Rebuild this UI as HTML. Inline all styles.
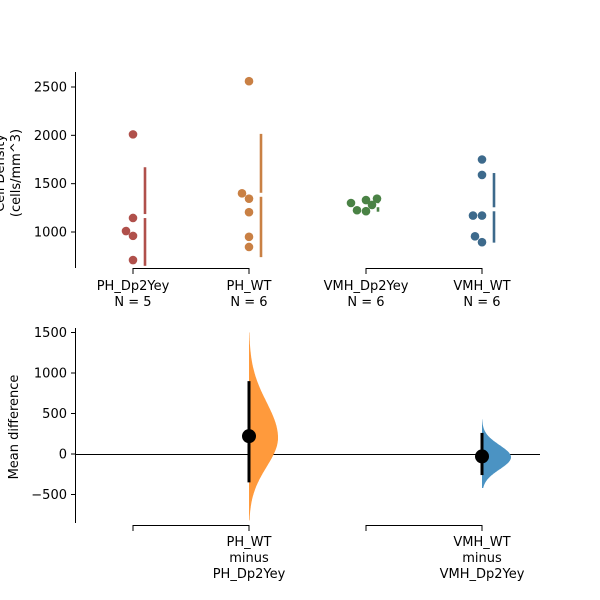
<!DOCTYPE html>
<html><head><meta charset="utf-8"><style>
html,body{margin:0;padding:0;background:#fff;}
svg{display:block;font-family:"DejaVu Sans","Liberation Sans",sans-serif;}
</style></head><body>
<svg id="chart" width="600" height="600" viewBox="0 0 600 600"></svg>
<script>
// ---- data ----
const groups = ["PH_Dp2Yey","PH_WT","VMH_Dp2Yey","VMH_WT"];
const groupN = [5,6,6,6];
const groupColors = ["#b0504b","#c98044","#4a8245","#3d6a8c"];
const ph_dp2 = [2010,1145,1010,960,710];
const ph_wt = [2560,1400,1345,1205,950,845];
const vmh_dp2 = [1300,1225,1330,1215,1280,1345];
const vmh_wt = [1750,1590,1170,1170,955,895];
const groupValues = [ph_dp2, ph_wt, vmh_dp2, vmh_wt];
const jitter = [[0,0,-7,0,0],[0,-7,0,0,0,0],[-15,-9,0,0,6,11],[0,0,-9,0,-7,0]];
const gapMean = [1165,1385,1277,1235];
const gapLow = [650,740,1210,890];
const gapHigh = [1670,2015,1344,1610];
const topTicks = [1000,1500,2000,2500];
const diffLabels = [["PH_WT","minus","PH_Dp2Yey"],["VMH_WT","minus","VMH_Dp2Yey"]];
const diffMean = [220,-30];
const ciLow = [-350,-260];
const ciHigh = [900,260];
const kdeCenter = [200,-40];
const kdeSdUp = [440,150];
const kdeSdDown = [360,150];
const kdeLo = [-820,-420];
const kdeHi = [1500,430];
const diffColors = ["#ff9a3c","#4b93c3"];
const bottomTicks = [-500,0,500,1000,1500];

// ---- scales ----
const gx = i => [133,249,366,482][i];
const yTop = v => 232 - (v-1000)*145/1500;
const yBot = v => 454 - v*81/1000;

const svg = document.getElementById('chart');
const NS = "http://www.w3.org/2000/svg";
function mk(tag, attrs, parent){const e=document.createElementNS(NS,tag);for(const k in attrs)e.setAttribute(k,attrs[k]);(parent||svg).appendChild(e);return e;}
function txt(x,y,s,anchor,parent){const t=mk('text',{x:x,y:y,'font-size':13,'text-anchor':anchor||'middle',fill:'#000'},parent);t.textContent=s;return t;}

// ---- top axes ----
const topAx = mk('g',{});


mk('line',{x1:75.5,y1:72,x2:75.5,y2:268,stroke:'#000','stroke-width':1},topAx);
topTicks.forEach(t=>{
  const y=yTop(t);
  mk('line',{x1:71,y1:y,x2:75.5,y2:y,stroke:'#000'},topAx);
  const l=txt(67,y+4.5,String(t),'end',topAx);
  
  
});
const yl = mk('text',{transform:'translate(7,173) rotate(-90)','font-size':13,'text-anchor':'middle'});


const ylA=mk('tspan',{x:0,dy:-3},yl);ylA.textContent='Cell Density';
const ylB=mk('tspan',{x:0,dy:16},yl);ylB.textContent='(cells/mm^3)';
[[0,1],[2,3]].forEach(p=>{
  mk('path',{d:`M${gx(p[0])},274 V268.5 H${gx(p[1])} V274`,fill:'none',stroke:'#000'},topAx);
});
groups.forEach((g,i)=>{
  const a=txt(gx(i),290,g);
  
  
  const b=txt(gx(i),306,'N = '+groupN[i]);
  
  
});
groupValues.forEach((vals,i)=>{
  vals.forEach((v,j)=>{
    const c=mk('circle',{cx:gx(i)+jitter[i][j],cy:yTop(v),r:4.3,fill:groupColors[i]});
    
    
  });
  const x=gx(i)+12, m=yTop(gapMean[i]);
  const s1=mk('line',{x1:x,y1:yTop(gapHigh[i]),x2:x,y2:m-2,stroke:groupColors[i],'stroke-width':2.6});
  
  
  const s2=mk('line',{x1:x,y1:m+2,x2:x,y2:yTop(gapLow[i]),stroke:groupColors[i],'stroke-width':2.6});
  
  
});

// ---- bottom axes ----
const botAx = mk('g',{});


mk('line',{x1:75.5,y1:328,x2:75.5,y2:523,stroke:'#000'},botAx);
bottomTicks.forEach(t=>{
  const y=yBot(t);
  mk('line',{x1:71,y1:y,x2:75.5,y2:y,stroke:'#000'},botAx);
  const l=txt(67,y+4.5,t<0?'\u2212'+Math.abs(t):String(t),'end',botAx);
  
  
});
const yl2=mk('text',{transform:'translate(18,427) rotate(-90)','font-size':13,'text-anchor':'middle'});
yl2.textContent='Mean difference';


const zl=mk('line',{x1:75,y1:yBot(0)+0.5,x2:540,y2:yBot(0)+0.5,stroke:'#000','stroke-width':1});


[[0,1],[2,3]].forEach(p=>{
  mk('path',{d:`M${gx(p[0])},531 V525.5 H${gx(p[1])} V531`,fill:'none',stroke:'#000'},botAx);
});
diffLabels.forEach((lines,k)=>{
  const x=gx(2*k+1);
  lines.forEach((s,j)=>{
    const t=txt(x,546+j*16,s);
    
    
  });
});
diffMean.forEach((m,k)=>{
  const x0=gx(2*k+1);
  const width=29;
  let pts=[];
  const steps=160;
  for(let s=0;s<=steps;s++){
    const v=kdeLo[k]+(kdeHi[k]-kdeLo[k])*s/steps;
    const sd=v>kdeCenter[k]?kdeSdUp[k]:kdeSdDown[k];
    const d=Math.exp(-0.5*Math.pow((v-kdeCenter[k])/sd,2));
    pts.push([x0+width*d,yBot(v)]);
  }
  let d=`M${x0},${yBot(kdeLo[k])} `+pts.map(p=>`L${p[0].toFixed(1)},${p[1].toFixed(1)}`).join(' ')+` L${x0},${yBot(kdeHi[k])} Z`;
  const p=mk('path',{d:d,fill:diffColors[k]});
  
  
  const ci=mk('line',{x1:x0,y1:yBot(ciHigh[k]),x2:x0,y2:yBot(ciLow[k]),stroke:'#000','stroke-width':3});
  
  
  const c=mk('circle',{cx:x0,cy:yBot(m),r:7,fill:'#000'});
  
  
});
</script>
</body></html>
